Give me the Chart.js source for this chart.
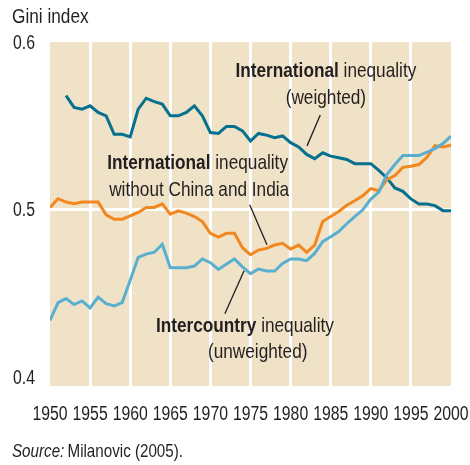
<!DOCTYPE html>
<html lang="en">
<head>
    <meta charset="UTF-8">
    <title>Gini index</title>
    <style>
        body { margin: 0; background: #ffffff; }
        #giniChart { display: block; }
    </style>
</head>
<body>
    <canvas id="giniChart" width="470" height="465"></canvas>

    <script src="https://cdn.jsdelivr.net/npm/chart.js"></script>
    <script>
        const years = [1950, 1951, 1952, 1953, 1954, 1955, 1956, 1957, 1958, 1959,
            1960, 1961, 1962, 1963, 1964, 1965, 1966, 1967, 1968, 1969,
            1970, 1971, 1972, 1973, 1974, 1975, 1976, 1977, 1978, 1979,
            1980, 1981, 1982, 1983, 1984, 1985, 1986, 1987, 1988, 1989,
            1990, 1991, 1992, 1993, 1994, 1995, 1996, 1997, 1998, 1999, 2000];

        // International inequality (weighted), starts 1952
        const weighted = [null, null, 0.568, 0.561, 0.560, 0.562, 0.558, 0.556, 0.545, 0.545,
            0.5435, 0.560, 0.5665, 0.5645, 0.563, 0.556, 0.556, 0.558, 0.562, 0.556,
            0.546, 0.5455, 0.5497, 0.5497, 0.547, 0.541, 0.5455, 0.5445, 0.543, 0.544,
            0.540, 0.5375, 0.533, 0.5305, 0.534, 0.532, 0.531, 0.530, 0.5275, 0.5275,
            0.5275, 0.5235, 0.519, 0.513, 0.511, 0.5065, 0.5035, 0.5035, 0.5025, 0.4995, 0.4995];

        // International inequality without China and India
        const withoutChinaIndia = [0.5014, 0.5066, 0.5046, 0.5036, 0.5046, 0.5046, 0.5046, 0.497, 0.4944, 0.4944,
            0.4964, 0.4984, 0.5014, 0.5014, 0.5036, 0.4974, 0.4994, 0.498, 0.496, 0.493,
            0.486, 0.4837, 0.486, 0.486, 0.4774, 0.4732, 0.476, 0.477, 0.479, 0.480,
            0.4766, 0.479, 0.4747, 0.479, 0.493, 0.496, 0.499, 0.5027, 0.5054, 0.5084,
            0.5126, 0.5114, 0.518, 0.5204, 0.5253, 0.526, 0.527, 0.5313, 0.5383, 0.5375, 0.5385];

        // Intercountry inequality (unweighted)
        const intercountry = [0.4341, 0.4447, 0.4471, 0.4435, 0.4457, 0.4415, 0.448, 0.4441, 0.4427, 0.4447,
            0.458, 0.4717, 0.4736, 0.4747, 0.4795, 0.4655, 0.4655, 0.4655, 0.4665, 0.4707,
            0.4685, 0.4645, 0.4677, 0.4707, 0.466, 0.462, 0.4647, 0.4635, 0.4635, 0.468,
            0.4707, 0.4707, 0.4697, 0.474, 0.481, 0.484, 0.487, 0.4917, 0.496, 0.500,
            0.5064, 0.5106, 0.521, 0.527, 0.5323, 0.5323, 0.5323, 0.5343, 0.5365, 0.5395, 0.5439];

        const yTicks = [0.4, 0.5, 0.6];

        const sans = "'Liberation Sans', Arial, sans-serif";
        const squeeze = 0.82; // no narrow face installed, so squeeze Liberation Sans
        const textColor = "#231f20";

        // label lines placed in data units: x/x2 = year of line centre, y = gini of each line
        const notes = [
            { x: 1984.4, x2: 1984.4, y: [0.5827, 0.5667], bold: "International", rest: " inequality", second: "(weighted)",
              leader: [[1983.7, 0.5565], [1982.05, 0.5381]] },
            { x: 1968.4, x2: 1968.6, y: [0.528, 0.5119], bold: "International", rest: " inequality", second: "without China and India",
              leader: [[1974.9, 0.503], [1977.05, 0.4792]] },
            { x: 1974.3, x2: 1975.9, y: [0.4304, 0.4149], bold: "Intercountry", rest: " inequality", second: "(unweighted)",
              leader: [[1974.2, 0.4637], [1971.8, 0.438]] }
        ];

        function toPoints(values) {
            return years.map((yr, i) => ({ x: yr, y: values[i] }));
        }

        function narrowWidth(ctx, text, font, sx = squeeze) {
            ctx.font = font;
            return ctx.measureText(text).width * sx;
        }

        function narrowText(ctx, text, x, y, font, align, sx = squeeze) {
            ctx.save();
            ctx.font = font;
            ctx.textAlign = align;
            ctx.textBaseline = "middle";
            ctx.translate(x, y);
            ctx.scale(sx, 1);
            ctx.fillText(text, 0, 0);
            ctx.restore();
        }

        const backgroundPlugin = {
            id: "beige",
            beforeDraw(chart) {
                const { ctx, chartArea: a } = chart;
                ctx.save();
                ctx.fillStyle = "#f0e2c6";
                ctx.fillRect(a.left, a.top, a.right - a.left, a.bottom - a.top);
                ctx.restore();
            }
        };

        const textPlugin = {
            id: "texts",
            afterDatasetsDraw(chart) {
                const { ctx, scales, chartArea } = chart;
                const xs = scales.x, ys = scales.y;
                ctx.save();
                ctx.fillStyle = textColor;
                ctx.strokeStyle = textColor;

                // tick labels from the scales' own ticks
                xs.ticks.forEach(t => {
                    narrowText(ctx, String(t.value), xs.getPixelForValue(t.value), chartArea.bottom + 28, "20px " + sans, "center", 0.79);
                });
                ys.ticks.forEach(t => {
                    narrowText(ctx, t.value.toFixed(1), chartArea.left - 15, ys.getPixelForValue(t.value) + 1, "20px " + sans, "right", 0.79);
                });

                notes.forEach(n => {
                    const cx = xs.getPixelForValue(n.x);
                    const fb = "bold 21px " + sans, fr = "21px " + sans;
                    const wBold = narrowWidth(ctx, n.bold, fb);
                    const wRest = narrowWidth(ctx, n.rest, fr);
                    const left = cx - (wBold + wRest) / 2;
                    const y1 = ys.getPixelForValue(n.y[0]);
                    narrowText(ctx, n.bold, left, y1, fb, "left");
                    narrowText(ctx, n.rest, left + wBold, y1, fr, "left");
                    narrowText(ctx, n.second, xs.getPixelForValue(n.x2), ys.getPixelForValue(n.y[1]), fr, "center");

                    ctx.lineWidth = 1.3;
                    ctx.beginPath();
                    ctx.moveTo(xs.getPixelForValue(n.leader[0][0]), ys.getPixelForValue(n.leader[0][1]));
                    ctx.lineTo(xs.getPixelForValue(n.leader[1][0]), ys.getPixelForValue(n.leader[1][1]));
                    ctx.stroke();
                });

                // axis title and source
                narrowText(ctx, "Gini index", 12, 17, "21px " + sans, "left");
                narrowText(ctx, "Source:", 12, 452, "italic 18.5px " + sans, "left");
                const w = narrowWidth(ctx, "Source: ", "italic 18.5px " + sans);
                narrowText(ctx, "Milanovic (2005).", 12 + w - 1, 452, "18.5px " + sans, "left");
                ctx.restore();
            }
        };

        const lineStyle = { borderWidth: 3, pointRadius: 0, fill: false, tension: 0, spanGaps: false };

        new Chart(document.getElementById("giniChart"), {
            type: "line",
            data: {
                datasets: [
                    { label: "Intercountry inequality (unweighted)", data: toPoints(intercountry), borderColor: "#58afd0", ...lineStyle },
                    { label: "International inequality without China and India", data: toPoints(withoutChinaIndia), borderColor: "#f0881f", ...lineStyle },
                    { label: "International inequality (weighted)", data: toPoints(weighted), borderColor: "#06708f", ...lineStyle }
                ]
            },
            options: {
                responsive: false,
                animation: false,
                devicePixelRatio: 1,
                layout: { padding: { top: 42, right: 19, left: 0, bottom: 0 } },
                plugins: { legend: { display: false }, tooltip: { enabled: false } },
                scales: {
                    x: {
                        type: "linear",
                        min: 1950,
                        max: 2000,
                        afterFit(scale) { scale.height = 79; },
                        ticks: { display: false, stepSize: 5, autoSkip: false },
                        grid: {
                            drawTicks: false,
                            lineWidth: 3,
                            color: ctx => (ctx.tick && (ctx.tick.value === 1950 || ctx.tick.value === 2000)) ? "rgba(0,0,0,0)" : "#ffffff"
                        },
                        border: { display: false }
                    },
                    y: {
                        min: 0.395,
                        max: 0.6,
                        afterFit(scale) { scale.width = 50; },
                        afterBuildTicks(scale) { scale.ticks = yTicks.map(v => ({ value: v })); },
                        ticks: { display: false },
                        grid: {
                            drawTicks: false,
                            lineWidth: 3,
                            color: ctx => (ctx.tick && ctx.tick.value === 0.5) ? "#ffffff" : "rgba(0,0,0,0)"
                        },
                        border: { display: false }
                    }
                }
            },
            plugins: [backgroundPlugin, textPlugin]
        });
    </script>
</body>
</html>
